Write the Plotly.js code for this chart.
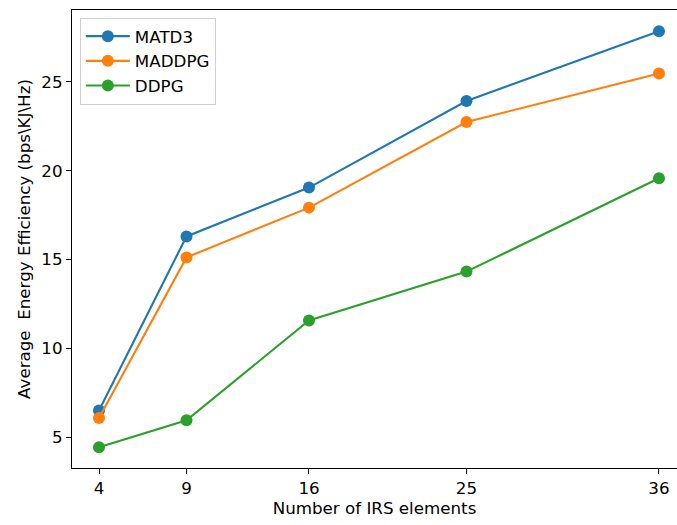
<!DOCTYPE html>
<html>
<head>
<meta charset="utf-8">
<script src="https://cdn.plot.ly/plotly-3.0.1.min.js"></script>
<style>html,body{margin:0;padding:0;overflow:hidden;background:#fff;}</style>
</head>
<body>
<div id="chart" style="width:677px;height:525px;"></div>
<script>
const irsElements = [4, 9, 16, 25, 36];
const matd3 = [6.5, 16.3, 19.05, 23.92, 27.85];
const maddpg = [6.08, 15.12, 17.92, 22.74, 25.47];
const ddpg = [4.44, 5.96, 11.57, 14.32, 19.57];
const seriesNames = ['MATD3', 'MADDPG', 'DDPG'];
const seriesColors = ['#1f77b4', '#ff7f0e', '#2ca02c'];
const yTicks = [5, 10, 15, 20, 25];

const allSeries = [matd3, maddpg, ddpg];
const traces = allSeries.map((ys, i) => ({
  x: irsElements,
  y: ys,
  name: seriesNames[i],
  type: 'scatter',
  mode: 'lines+markers',
  line: {color: seriesColors[i], width: 2.1},
  marker: {color: seriesColors[i], size: 12}
}));

const fam = 'DejaVu Sans, sans-serif';
const fs = 16.7;
const layout = {
  width: 677, height: 525,
  margin: {l: 72, r: 0, t: 10, b: 57},
  paper_bgcolor: '#fff', plot_bgcolor: '#fff',
  font: {family: fam, size: fs, color: '#000'},
  showlegend: true,
  legend: {
    x: 0.013, y: 0.983, xanchor: 'left', yanchor: 'top',
    bgcolor: 'rgba(255,255,255,0.8)', bordercolor: '#d0d0d0', borderwidth: 1,
    font: {family: fam, size: fs, color: '#000'},
    tracegroupgap: 0, itemwidth: 44
  },
  xaxis: {
    range: [2.457, 37.03],
    tickvals: irsElements, ticktext: irsElements.map(String),
    showgrid: false, zeroline: false,
    showline: true, linecolor: '#000', linewidth: 1.1, mirror: true,
    ticks: 'outside', ticklen: 5, tickwidth: 1, tickcolor: '#000',
    tickfont: {family: fam, size: fs},
    title: {text: 'Number of IRS elements', font: {family: fam, size: fs}, standoff: 5}
  },
  yaxis: {
    range: [3.27, 29.04],
    tickvals: yTicks, ticktext: yTicks.map(String),
    showgrid: false, zeroline: false,
    showline: true, linecolor: '#000', linewidth: 1.1, mirror: false,
    ticks: 'outside', ticklen: 5, tickwidth: 1, tickcolor: '#000',
    tickfont: {family: fam, size: fs},
    title: {text: 'Average  Energy Efficiency (bps\\KJ\\Hz)', font: {family: fam, size: fs}, standoff: 6}
  }
};
Plotly.newPlot('chart', traces, layout, {displayModeBar: false, staticPlot: true});
</script>
</body>
</html>
